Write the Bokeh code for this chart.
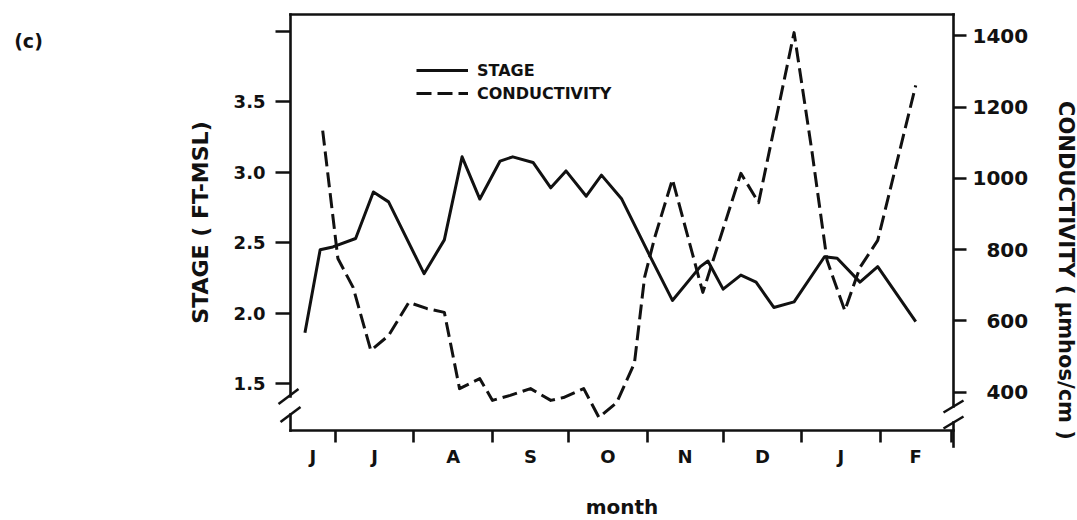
from bokeh.plotting import figure
from bokeh.models import (Range1d, LinearAxis, FixedTicker, Legend, LegendItem,
                          Label, PolyAnnotation)
from bokeh.embed import file_html
from bokeh.resources import INLINE

# Sampling dates, counted in days from 1 June
stage_day = [18, 24, 29, 38, 45, 51, 65, 73, 80, 87, 95, 100, 108, 115, 121, 129,
             135, 143, 154, 163, 174, 177, 183, 190, 196, 203, 211, 223, 228, 237, 244, 259]
stage_ft = [1.86, 2.45, 2.47, 2.53, 2.86, 2.79, 2.28, 2.52, 3.11, 2.81, 3.08, 3.11,
            3.07, 2.89, 3.01, 2.83, 2.98, 2.81, 2.41, 2.09, 2.33, 2.37, 2.17, 2.27,
            2.22, 2.04, 2.08, 2.40, 2.39, 2.22, 2.33, 1.94]

cond_day = [25, 31, 37, 44, 51, 59, 66, 73, 79, 87, 92, 99, 107, 115, 120, 128,
            134, 141, 148, 152, 156, 163, 175, 190, 197, 211, 218, 224, 231, 237, 244, 259]
cond_umhos = [1134, 775, 694, 517, 559, 652, 635, 624, 410, 438, 377, 391, 410, 377,
              385, 410, 329, 371, 481, 722, 834, 997, 680, 1014, 932, 1409, 1078, 770,
              629, 750, 826, 1261]

# First day of each month (Jul .. Mar), and the month initials shown between them
month_starts = [30, 61, 92, 122, 153, 183, 214, 245, 273]
month_letters = ["J", "J", "A", "S", "O", "N", "D", "J", "F"]
stage_ticks = [1.5, 2.0, 2.5, 3.0, 3.5, 4.0]
cond_ticks = [400, 600, 800, 1000, 1200, 1400]

# Values at the edges of the boxed plotting area
X_LEFT, X_RIGHT = 12.3, 273.9
S_BOT, S_TOP = 1.166, 4.121
C_BOT, C_TOP = 292.5, 1459.8

# Canvas and the box's edges on it (pixels from the top-left corner)
W, H = 1077, 520
BOX_L, BOX_R, BOX_T, BOX_B = 290, 953, 14, 430

FONT = "DejaVu Sans"
INK = "#111111"
LW = 2.6

# The plot frame fills the whole canvas; the axes are pinned to the box edges,
# so that marks may reach past the box (axis breaks, panel letter, titles).
day_px = (X_RIGHT - X_LEFT) / (BOX_R - BOX_L)
stage_px = (S_TOP - S_BOT) / (BOX_B - BOX_T)
cond_px = (C_TOP - C_BOT) / (BOX_B - BOX_T)
x_range = Range1d(X_LEFT - BOX_L * day_px, X_RIGHT + (W - BOX_R) * day_px)
y_range = Range1d(S_BOT - (H - BOX_B) * stage_px, S_TOP + BOX_T * stage_px)
cond_range = Range1d(C_BOT - (H - BOX_B) * cond_px, C_TOP + BOX_T * cond_px)


def stage_at(py):
    return S_BOT + (BOX_B - py) * stage_px


def cond_at(py):
    return C_BOT + (BOX_B - py) * cond_px


p = figure(width=W, height=H, x_range=x_range, y_range=y_range,
           output_backend="svg", toolbar_location=None, title=None,
           x_axis_location=None, y_axis_location=None, min_border=0,
           background_fill_color="white", border_fill_color="white")
p.extra_y_ranges = {"cond": cond_range}
p.grid.visible = False
p.outline_line_color = None


def style_axis(ax):
    ax.axis_line_color = None
    ax.major_tick_line_color = INK
    ax.major_tick_line_width = LW
    ax.major_tick_in = 0
    ax.minor_tick_line_color = None
    ax.major_label_text_font = FONT
    ax.major_label_text_font_style = "bold"
    ax.major_label_text_font_size = "18px"
    ax.major_label_text_color = INK
    ax.axis_label_text_font = FONT
    ax.axis_label_text_font_style = "bold"
    ax.axis_label_text_color = INK


def rule(side, loc, lo, hi, range_name="default"):
    """A bare axis line (no ticks, no labels) between lo and hi."""
    ax = LinearAxis(fixed_location=loc, bounds=(lo, hi), ticker=FixedTicker(ticks=[]),
                    axis_line_color=INK, axis_line_width=LW, axis_line_cap="square",
                    major_tick_line_color=None, minor_tick_line_color=None,
                    major_label_text_font_size="0px")
    if side in ("left", "right"):
        ax.y_range_name = range_name
    p.add_layout(ax, side)


# left: stage
yl = LinearAxis(fixed_location=X_LEFT, bounds=(S_BOT, S_TOP))
style_axis(yl)
yl.ticker = FixedTicker(ticks=stage_ticks)
yl.major_label_overrides = {t: ("" if t == 4.0 else f"{t:.1f}") for t in stage_ticks}
yl.major_tick_out = 15
yl.major_label_standoff = 10
yl.axis_label = "STAGE ( FT-MSL)"
yl.axis_label_text_font_size = "22px"
yl.axis_label_standoff = 18
p.add_layout(yl, "left")

# right: conductivity (labels padded with figure spaces so they line up on the right)
yr = LinearAxis(y_range_name="cond", fixed_location=X_RIGHT, bounds=(C_BOT, C_TOP))
style_axis(yr)
yr.ticker = FixedTicker(ticks=cond_ticks)
yr.major_label_overrides = {t: f"{t:d}".rjust(4, "\u2007") for t in cond_ticks}
yr.major_label_text_font_size = "20px"
yr.major_tick_out = 13
yr.major_label_standoff = 6
p.add_layout(yr, "right")

# bottom: months, ticks at month boundaries, initials centred between them
edges = [X_LEFT] + month_starts
mids = [(a + b) / 2 for a, b in zip(edges[:-1], edges[1:])]
xa = LinearAxis(fixed_location=S_BOT, bounds=(X_LEFT, X_RIGHT))
style_axis(xa)
xa.ticker = FixedTicker(ticks=mids, minor_ticks=month_starts)
xa.major_label_overrides = dict(zip(mids, month_letters))
xa.major_tick_line_color = None
xa.major_tick_out = 12
xa.minor_tick_line_color = INK
xa.minor_tick_line_width = LW
xa.minor_tick_in = 0
xa.minor_tick_out = 12
xa.major_label_standoff = 3
xa.axis_label = "month"
xa.axis_label_text_font_size = "20px"
xa.axis_label_standoff = 25
p.add_layout(xa, "below")

# box edges; both vertical edges are broken near the bottom
rule("below", S_BOT, X_LEFT, X_RIGHT)
rule("above", S_TOP, X_LEFT, X_RIGHT)
rule("left", X_LEFT, stage_at(396), S_TOP)
rule("left", X_LEFT, S_BOT, stage_at(414))
rule("right", X_RIGHT, cond_at(406), C_TOP, "cond")
rule("right", X_RIGHT, cond_at(446), cond_at(422), "cond")

r_stage = p.line(stage_day, stage_ft, line_color=INK, line_width=3, line_join="round")
r_cond = p.line(cond_day, cond_umhos, y_range_name="cond", line_color=INK, line_width=3,
                line_dash="15 6", line_join="round")

legend = Legend(items=[LegendItem(label="STAGE", renderers=[r_stage]),
                       LegendItem(label="CONDUCTIVITY", renderers=[r_cond])],
                location=(416, H - 103), orientation="vertical",
                background_fill_alpha=0, border_line_color=None,
                glyph_width=52, glyph_height=20, label_height=20, spacing=3,
                padding=0, margin=0, label_standoff=9,
                label_text_font=FONT, label_text_font_style="bold",
                label_text_font_size="16px", label_text_color=INK)
p.add_layout(legend)


# break slashes (screen units: pixels from the canvas' lower-left corner)
def slash(px, py, half_w=10, half_h=7.5):
    sx, sy = px, H - py
    p.add_layout(PolyAnnotation(xs=[sx - half_w, sx + half_w], ys=[sy - half_h, sy + half_h],
                                xs_units="screen", ys_units="screen",
                                fill_alpha=0, line_color=INK, line_alpha=1,
                                line_width=LW, level="overlay"))


slash(BOX_L - 2, 396)
slash(BOX_L, 414)
slash(BOX_R, 406, 10, 6)
slash(BOX_R, 422, 10, 6)

p.add_layout(Label(x=28, y=H - 40, x_units="screen", y_units="screen",
                   text="(c)", text_font=FONT, text_font_style="bold",
                   text_font_size="19px", text_color=INK,
                   text_align="center", text_baseline="middle"))

p.add_layout(Label(x=1065, y=H - 270, x_units="screen", y_units="screen",
                   angle=-90, angle_units="deg",
                   text="CONDUCTIVITY ( \u03bcmhos/cm )", text_font=FONT,
                   text_font_style="bold", text_font_size="21px", text_color=INK,
                   text_align="center", text_baseline="middle"))

open("out.html", "w").write(file_html(p, INLINE))
